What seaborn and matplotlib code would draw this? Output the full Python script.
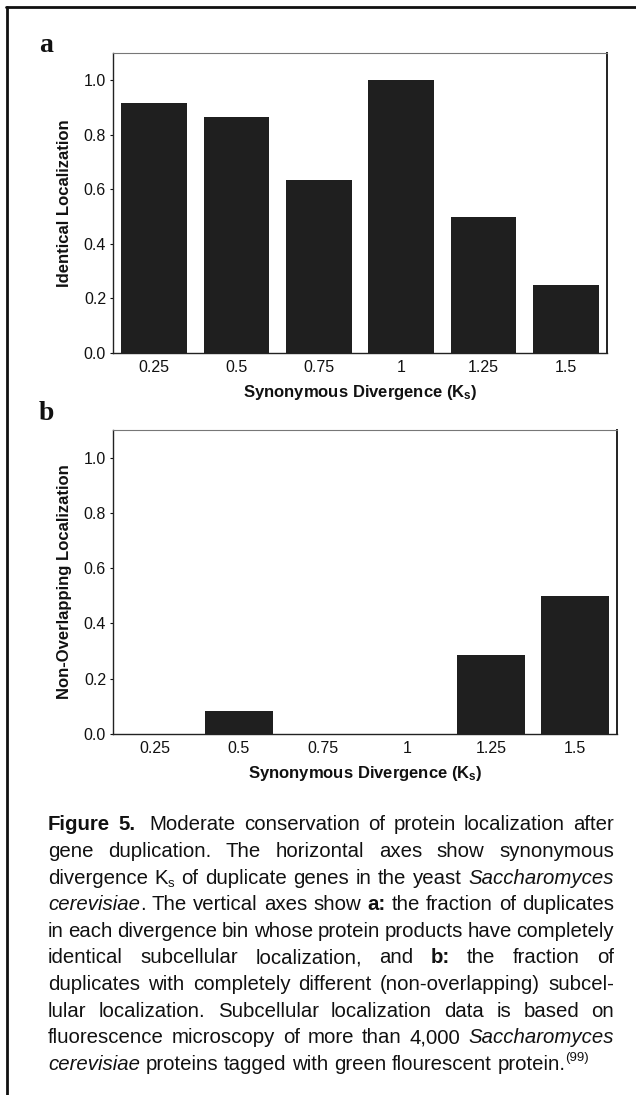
import numpy as np
import pandas as pd
import matplotlib
matplotlib.use("Agg")
import matplotlib.pyplot as plt
import seaborn as sns
from matplotlib.lines import Line2D

# ---------------- data ----------------
bins = ["0.25", "0.5", "0.75", "1", "1.25", "1.5"]
identical = [0.917, 0.867, 0.636, 1.0, 0.5, 0.25]
non_overlapping = [0.0, 0.083, 0.0, 0.0, 0.286, 0.5]
yticks = [0.0, 0.2, 0.4, 0.6, 0.8, 1.0]
ytick_labels = ["0.0", "0.2", "0.4", "0.6", "0.8", "1.0"]
xlabel = r"Synonymous Divergence ($\mathbf{K_s}$)"
ylabel_a = "Identical Localization"
ylabel_b = "Non-Overlapping Localization"

caption_lines = [
    [[("Figure", "b")], [("5.", "b")], [("Moderate", "n")], [("conservation", "n")], [("of", "n")],
     [("protein", "n")], [("localization", "n")], [("after", "n")]],
    [[("gene", "n")], [("duplication.", "n")], [("The", "n")], [("horizontal", "n")], [("axes", "n")],
     [("show", "n")], [("synonymous", "n")]],
    [[("divergence", "n")], [("K", "n"), ("s", "sub")], [("of", "n")], [("duplicate", "n")], [("genes", "n")],
     [("in", "n")], [("the", "n")], [("yeast", "n")], [("Saccharomyces", "i")]],
    [[("cerevisiae", "i"), (".", "n")], [("The", "n")], [("vertical", "n")], [("axes", "n")], [("show", "n")],
     [("a:", "b")], [("the", "n")], [("fraction", "n")], [("of", "n")], [("duplicates", "n")]],
    [[("in", "n")], [("each", "n")], [("divergence", "n")], [("bin", "n")], [("whose", "n")], [("protein", "n")],
     [("products", "n")], [("have", "n")], [("completely", "n")]],
    [[("identical", "n")], [("subcellular", "n")], [("localization,", "n")], [("and", "n")], [("b:", "b")],
     [("the", "n")], [("fraction", "n")], [("of", "n")]],
    [[("duplicates", "n")], [("with", "n")], [("completely", "n")], [("different", "n")],
     [("(non-overlapping)", "n")], [("subcel-", "n")]],
    [[("lular", "n")], [("localization.", "n")], [("Subcellular", "n")], [("localization", "n")], [("data", "n")],
     [("is", "n")], [("based", "n")], [("on", "n")]],
    [[("fluorescence", "n")], [("microscopy", "n")], [("of", "n")], [("more", "n")], [("than", "n")],
     [("4,000", "n")], [("Saccharomyces", "i")]],
    [[("cerevisiae", "i")], [("proteins", "n")], [("tagged", "n")], [("with", "n")], [("green", "n")],
     [("flourescent", "n")], [("protein.", "n"), ("(99)", "sup")]],
]

# ---------------- style ----------------
sns.set_style("white")
plt.rcParams["font.family"] = ["Liberation Sans", "DejaVu Sans"]
plt.rcParams["mathtext.fontset"] = "custom"
plt.rcParams["mathtext.rm"] = "Liberation Sans"
plt.rcParams["mathtext.bf"] = "Liberation Sans:bold"
plt.rcParams["mathtext.it"] = "Liberation Sans:italic"

W, H = 636, 1095
fig = plt.figure(figsize=(W / 100, H / 100), dpi=100)
fig.patch.set_facecolor("white")


def px_axes(l, t, r, b):
    return [l / W, 1 - b / H, (r - l) / W, (b - t) / H]


BAR = "#1f1f1f"
TICK_FS = 11.5
LABEL_FS = 12


def style_axes(ax, ylab):
    ax.set_xlim(-0.5, len(bins) - 0.5)
    ax.set_ylim(0, 1.1)
    ax.set_yticks(yticks)
    ax.set_yticklabels(ytick_labels)
    ax.set_xticks(range(len(bins)))
    ax.set_xticklabels(bins)
    ax.set_xticks(np.arange(0.5, len(bins) - 0.5, 1.0), minor=True)
    ax.tick_params(axis="x", which="major", length=0, pad=5, labelsize=TICK_FS, colors="#111111")
    ax.tick_params(axis="x", which="minor", length=2.5, direction="in", width=0.8, color="#444444")
    ax.tick_params(axis="y", which="major", length=2, direction="out", width=0.8, pad=3,
                   labelsize=TICK_FS, colors="#111111", left=True)
    for side, sp in ax.spines.items():
        sp.set_visible(True)
        sp.set_color("#222222")
        sp.set_linewidth(1.0)
    ax.spines["top"].set_color("#777777")
    ax.spines["top"].set_linewidth(0.8)
    ax.spines["right"].set_linewidth(1.4)
    ax.set_xlabel(xlabel, fontsize=LABEL_FS, fontweight="bold", color="#111111")
    ax.set_ylabel(ylab, fontsize=LABEL_FS, fontweight="bold", color="#111111")
    ax.xaxis.set_label_coords(0.5, -0.1)
    ax.yaxis.set_label_coords(-0.082, 0.5)
    ax.grid(False)


ax_a = fig.add_axes(px_axes(113, 53, 607, 353))
df_a = pd.DataFrame({"bin": bins, "value": identical})
sns.barplot(data=df_a, x="bin", y="value", order=bins, color=BAR, saturation=1, width=0.8,
            linewidth=0, ax=ax_a)
style_axes(ax_a, ylabel_a)

ax_b = fig.add_axes(px_axes(113, 430, 617, 734))
df_b = pd.DataFrame({"bin": bins, "value": non_overlapping})
sns.barplot(data=df_b, x="bin", y="value", order=bins, color=BAR, saturation=1, width=0.8,
            linewidth=0, ax=ax_b)
style_axes(ax_b, ylabel_b)

# panel letters
fig.text(39 / W, 1 - 45 / H, "a", fontsize=20, fontweight="bold", family="Liberation Serif",
         ha="left", va="center", color="#111111")
fig.text(39 / W, 1 - 413 / H, "b", fontsize=20, fontweight="bold", family="Liberation Serif",
         ha="left", va="center", color="#111111")

# frame lines (left and top)
fig.add_artist(Line2D([7 / W, 7 / W], [0, 1 - 7 / H], transform=fig.transFigure, color="#111111", lw=2.0))
fig.add_artist(Line2D([6 / W, 1], [1 - 7 / H, 1 - 7 / H], transform=fig.transFigure, color="#111111", lw=2.0))

# ---------------- caption (justified) ----------------
renderer = fig.canvas.get_renderer()


def run_props(style, fs):
    p = dict(fontsize=fs, fontweight="normal", fontstyle="normal")
    if style == "b":
        p["fontweight"] = "bold"
    elif style == "i":
        p["fontstyle"] = "italic"
    elif style in ("sub", "sup"):
        p["fontsize"] = fs * 0.65
    return p


def measure(text, style, fs):
    t = fig.text(0, 0, text, **run_props(style, fs))
    w = t.get_window_extent(renderer).width
    t.remove()
    return w


def word_width(word, fs):
    return sum(measure(tx, st, fs) for tx, st in word)


def space_width(fs):
    return measure("n n", "n", fs) - measure("nn", "n", fs)


cap_left, cap_right = 48, 614
cap_w = cap_right - cap_left
fs0 = 10.0
nat = []
for line in caption_lines[:-1]:
    nat.append(sum(word_width(w, fs0) for w in line) + space_width(fs0) * 0.8 * (len(line) - 1))
FS = fs0 * cap_w / max(nat)

first_center = 823
spacing = 26.6
em_px = FS * 100 / 72
sp = space_width(FS)
extra = {(0, 1): sp}  # wider gap after "Figure 5."
for i, line in enumerate(caption_lines):
    baseline = first_center + i * spacing + 0.36 * em_px
    widths = [word_width(w, FS) for w in line]
    extras = sum(v for (li, wi), v in extra.items() if li == i)
    if i < len(caption_lines) - 1:
        gap = (cap_w - sum(widths) - extras) / (len(line) - 1)
    else:
        gap = sp
    x = cap_left
    for j, (w, ww) in enumerate(zip(line, widths)):
        xr = x
        for tx, st in w:
            dy = 0
            if st == "sub":
                dy = 0.18 * em_px
            elif st == "sup":
                dy = -0.42 * em_px
            fig.text(xr / W, 1 - (baseline + dy) / H, tx, ha="left", va="baseline",
                     color="#111111", **run_props(st, FS))
            xr += measure(tx, st, FS)
        x += ww + gap + extra.get((i, j), 0)

fig.savefig("out.png", dpi=100, facecolor="white")
